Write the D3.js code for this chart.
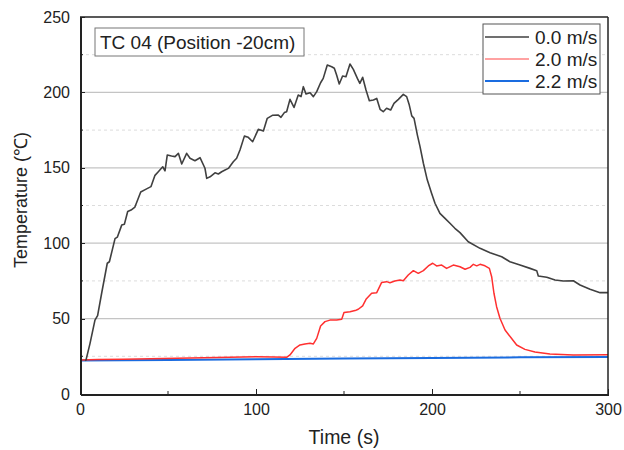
<!DOCTYPE html>
<html lang="en">
<head>
<meta charset="utf-8" />
<title>TC 04</title>
<style>
    body { margin: 0; background: #fff; }
    svg text { font-family: "Liberation Sans", Arial, sans-serif; fill: #222; }
    .axis path, .axis line { stroke: #222; shape-rendering: crispEdges; }
    .axis text { font-size: 16px; }
</style>
</head>
<body>
<div id="graph"></div>
<script src="https://d3js.org/d3.v7.min.js"></script>
<script>
    // series: time (s) and temperature (℃)
    var t00 = [3, 3.4, 5.7, 8.5, 10, 12.3, 15.5, 16.7, 19.9, 21.2, 23.7, 25.2, 27.1, 29, 31.2, 34.5, 37.3, 40.3, 42.6, 44.5, 47, 48.3,
               49.6, 52, 54, 55.9, 57.8, 60.6, 62.5, 65.3, 68.2, 71, 72, 73.9, 76.7, 78.6, 80.5, 82.4, 84.3, 87.1, 89, 90.9, 93.4,
               95.6, 98.1, 101.3, 104.2, 106.4, 109.3, 112.7, 114.2, 116.1, 117.4, 119.3, 121.6, 124, 125.6, 126.9, 128.4, 130.7,
               132.6, 134.5, 136.7, 138.2, 140.5, 143, 144.5, 145.8, 147.3, 149.2, 151.1, 153.4, 155.3, 157.6, 159, 160.6, 162.5,
               164.4, 166.7, 168.6, 170.5, 172.3, 174.2, 176.5, 178.4, 180.9, 183.7, 185.6, 187.1, 188.5, 189.8, 191.7, 193.2,
               195.1, 197.3, 199.8, 201.7, 204.5, 207.4, 210.2, 213, 215.9, 220.6, 227.3, 233, 239.6, 244.3, 250, 255.7, 259.5,
               260.4, 265.2, 269.9, 274.6, 280.3, 284.1, 289.8, 295.5, 300];
    var v00 = [22, 22.5, 33.6, 49, 52, 66.8, 86.7, 87.7, 103, 104, 112, 112.5, 121, 122, 124, 134, 135.7, 137.5, 145, 147.4, 150.7, 148,
               158.5, 157.8, 157.4, 159.6, 152.5, 159.6, 156.3, 154.7, 156.7, 149.7, 143, 144, 146.7, 145.9, 147.4, 148.5, 149.6, 154,
               156.3, 161.8, 171, 170.2, 167.3, 175.5, 174.4, 182.8, 184.8, 185, 183.5, 186.6, 187.2, 195.4, 190, 198.3, 197.2, 203.8,
               199, 199.8, 197.2, 200.5, 206.4, 209.3, 218.2, 217, 216, 211.5, 205.6, 210.9, 210.4, 218.8, 215.3, 209.3, 206, 210,
               201.6, 194.5, 195, 196, 188.8, 187.2, 189.5, 188.3, 192.7, 195.4, 198.7, 197.2, 191.6, 184.4, 182.8, 171.7, 164, 153,
               142, 133, 126.5, 119.8, 116.5, 113.2, 109.9, 107, 101, 96.6, 93.7, 91, 87.7, 85.5, 83.3, 81.8, 78.2, 77.4, 75.6, 74.9,
               75.1, 72.3, 69.4, 67.2, 67.2];

    var t20 = [0, 10, 25, 40, 55, 70, 85, 100, 110, 117.4, 119.3, 122.2, 125, 127.8, 130.7, 132.6, 134.5, 136.7, 139.2, 142, 145.8,
               148.7, 150, 153.4, 156.3, 158.1, 160.6, 162.5, 165.7, 168.6, 171.4, 174.2, 176.1, 178.9, 181.8, 183.7, 186.5, 189.4,
               192.2, 195.1, 197.9, 200.4, 202.6, 205.5, 208.3, 212.1, 215.9, 218.8, 221.6, 223.5, 225.4, 227.3, 230.1, 232.6, 233.9,
               235.2, 236.7, 238.6, 241.5, 244.7, 248.1, 252.8, 258.5, 267, 280.3, 300];
    var v20 = [22.5, 22.8, 23.1, 23.4, 23.7, 24, 24.3, 24.7, 24.6, 24.3, 25.9, 30.3, 32.5, 33.2, 33.6, 33.2, 36.9, 45.1, 48, 49, 49,
               49.5, 54, 54.6, 55.3, 56.2, 58.4, 62.8, 66.8, 67.2, 74, 74.5, 73.8, 74.9, 75.6, 75.1, 78.9, 81.8, 80, 81.8, 84.9, 86.7,
               84.9, 85.5, 83.3, 85.5, 84.4, 82.7, 84, 86, 85, 86, 85, 83.3, 77.8, 66.8, 57.9, 50.2, 42.4, 37.6, 32.5, 29.6, 27.9,
               26.5, 25.9, 26.1];

    var t22 = [0, 50, 100, 150, 200, 250, 300];
    var v22 = [22.2, 22.6, 23.1, 23.5, 23.9, 24.3, 24.6];

    var series = [
        { name: "0.0 m/s", color: "#404040", width: 1.6, t: t00, v: v00 },
        { name: "2.0 m/s", color: "#ff3030", width: 1.5, t: t20, v: v20 },
        { name: "2.2 m/s", color: "#1a6ce0", width: 2, t: t22, v: v22 }
    ];

    var xTicks = [0, 100, 200, 300];
    var yTicks = [0, 50, 100, 150, 200, 250];
    var yMinor = [25, 75, 125, 175, 225];
    var xMinor = [50, 150, 250];

    var margin = { top: 17, right: 16, bottom: 56, left: 80 },
        width = 624 - margin.left - margin.right,
        height = 450 - margin.top - margin.bottom;

    var x = d3.scaleLinear().domain([0, 300]).range([0, width]);
    var y = d3.scaleLinear().domain([0, 250]).range([height, 0]);

    var svg = d3.select("#graph").append("svg")
        .attr("width", 624)
        .attr("height", 450)
        .append("g")
        .attr("transform", "translate(" + margin.left + "," + margin.top + ")");

    // grid
    svg.selectAll(".gmaj").data(yTicks.slice(1, -1)).enter().append("line")
        .attr("x1", 0).attr("x2", width)
        .attr("y1", function (d) { return y(d); }).attr("y2", function (d) { return y(d); })
        .attr("stroke", "#c4c4c4").attr("stroke-width", 1.2);
    svg.selectAll(".gmin").data(yMinor).enter().append("line")
        .attr("x1", 0).attr("x2", width)
        .attr("y1", function (d) { return y(d); }).attr("y2", function (d) { return y(d); })
        .attr("stroke", "#dcdcdc").attr("stroke-width", 1).attr("stroke-dasharray", "3,3");

    var line = d3.line()
        .x(function (d) { return x(d[0]); })
        .y(function (d) { return y(d[1]); });

    series.slice().reverse().forEach(function (s) {
        svg.append("path")
            .attr("d", line(d3.zip(s.t, s.v)))
            .attr("fill", "none")
            .attr("stroke", s.color)
            .attr("stroke-width", s.width)
            .attr("stroke-linejoin", "round");
    });

    // axes
    svg.append("g")
        .attr("class", "x axis")
        .attr("transform", "translate(0," + height + ")")
        .call(d3.axisBottom(x).tickValues(xTicks).tickSizeInner(-5).tickSizeOuter(0).tickPadding(10))
        .call(function (g) { g.select(".domain").attr("stroke-width", 2); });
    svg.append("g")
        .attr("transform", "translate(0," + height + ")")
        .selectAll("line").data(xMinor).enter().append("line")
        .attr("x1", function (d) { return x(d); }).attr("x2", function (d) { return x(d); })
        .attr("y1", 0).attr("y2", -3).attr("stroke", "#222");

    svg.append("g")
        .attr("class", "y axis")
        .call(d3.axisLeft(y).tickValues(yTicks).tickSizeInner(-5).tickSizeOuter(0).tickPadding(10))
        .call(function (g) { g.select(".domain").attr("stroke-width", 2); });
    svg.append("g")
        .selectAll("line").data(yMinor).enter().append("line")
        .attr("x1", 0).attr("x2", 3)
        .attr("y1", function (d) { return y(d); }).attr("y2", function (d) { return y(d); })
        .attr("stroke", "#222");

    // frame top / right
    svg.append("line").attr("x1", 0).attr("x2", width).attr("y1", 0).attr("y2", 0)
        .attr("stroke", "#222").attr("stroke-width", 1.5);
    svg.append("line").attr("x1", width).attr("x2", width).attr("y1", 0).attr("y2", height)
        .attr("stroke", "#222").attr("stroke-width", 1.5);

    // axis titles
    svg.append("text")
        .attr("x", width / 2).attr("y", height + 50)
        .attr("text-anchor", "middle")
        .style("font-size", "19.5px")
        .text("Time (s)");
    svg.append("text")
        .attr("transform", "translate(" + (-53) + "," + (183) + ") rotate(-90)")
        .attr("text-anchor", "middle")
        .style("font-size", "18px")
        .text("Temperature (℃)");

    // title box
    var tb = svg.append("g").attr("transform", "translate(15,11)");
    tb.append("rect").attr("width", 209).attr("height", 28)
        .attr("fill", "#fff").attr("stroke", "#777").attr("stroke-width", 1);
    tb.append("text").attr("x", 5).attr("y", 21).style("font-size", "19px")
        .text("TC 04 (Position -20cm)");

    // legend
    var lg = svg.append("g").attr("transform", "translate(403,7)");
    lg.append("rect").attr("width", 117).attr("height", 70)
        .attr("fill", "#fff").attr("stroke", "#555").attr("stroke-width", 1);
    var items = lg.selectAll(".item").data(series).enter().append("g")
        .attr("transform", function (d, i) { return "translate(0," + (13 + i * 22) + ")"; });
    items.append("line").attr("x1", 2).attr("x2", 46).attr("y1", 0).attr("y2", 0)
        .attr("stroke", function (d) { return d.color; })
        .attr("stroke-width", function (d) { return d.width; })
        .attr("stroke-opacity", function (d, i) { return i === 1 ? 0.6 : 1; });
    items.append("text").attr("x", 52).attr("y", 7).style("font-size", "19px")
        .text(function (d) { return d.name; });
</script>
</body>
</html>
